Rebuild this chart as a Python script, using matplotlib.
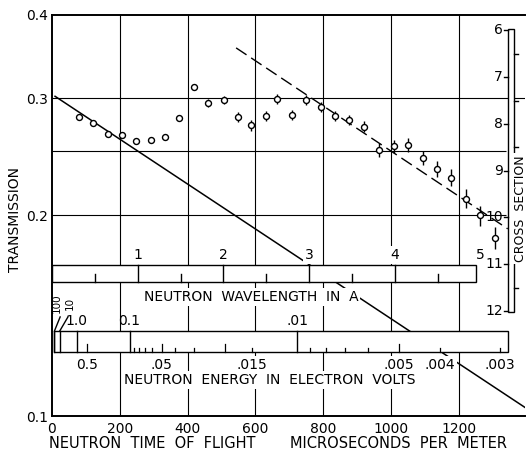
import numpy as np
import matplotlib
matplotlib.use("Agg")
import matplotlib.pyplot as plt
import matplotlib.transforms as mtransforms
from matplotlib.patches import Rectangle
from matplotlib.ticker import NullLocator

plt.rcParams["font.family"] = ["DejaVu Sans"]

# -------------------------------------------------------------------------
# Measured transmission vs neutron time of flight (microseconds per meter)
# -------------------------------------------------------------------------
tof = [81, 122, 165, 207, 248, 291, 334, 374, 418, 461, 506, 548, 588, 631,
       664, 708, 748, 794, 835, 876, 920, 965, 1009, 1051, 1093, 1135, 1176,
       1221, 1262, 1306]
transmission = [0.281, 0.275, 0.265, 0.264, 0.259, 0.260, 0.262, 0.280, 0.312,
                0.295, 0.298, 0.281, 0.273, 0.282, 0.299, 0.283, 0.298, 0.291,
                0.282, 0.278, 0.272, 0.251, 0.254, 0.255, 0.244, 0.235, 0.228,
                0.212, 0.200, 0.185]
trans_err = [0, 0, 0, 0, 0, 0, 0, 0, 0.003,
             0.004, 0.004, 0.005, 0.005, 0.005, 0.005, 0.005, 0.005, 0.005,
             0.005, 0.005, 0.005, 0.006, 0.006, 0.006, 0.006, 0.0065, 0.0065,
             0.007, 0.007, 0.007]

# 1/v lines (straight on the log scale)
solid_tof = [9, 1395]
solid_T = [0.302, 0.103]
dashed_tof = [543, 1344]
dashed_T = [0.357, 0.191]

x_ticks = [0, 200, 400, 600, 800, 1000, 1200]
y_ticks = [0.1, 0.2, 0.3, 0.4]
y_grid = [0.3, 0.25, 0.2]

# auxiliary scales
wavelengths = [1, 2, 3, 4, 5]
wavelength_half = [0.5, 1.5, 2.5, 3.5, 4.5]
energy_major = [100, 10, 1.0, 0.1, 0.01]
energy_top_labels = ["1.0", "0.1", ".01"]
energy_top_values = [1.0, 0.1, 0.01]
energy_minor = [0.5, 0.09, 0.08, 0.07, 0.06, 0.05, 0.04, 0.03, 0.02, 0.015,
                0.009, 0.008, 0.007, 0.006, 0.005, 0.004, 0.003]
energy_mid = [0.5, 0.05, 0.02, 0.005]
energy_bottom_labels = ["0.5", ".05", ".015", ".005", ".004", ".003"]
energy_bottom_values = [0.5, 0.05, 0.015, 0.005, 0.004, 0.003]
cross_sections = [6, 7, 8, 9, 10, 11, 12]

TOF_PER_ANGSTROM = 252.8      # microseconds per meter per angstrom
TOF_ENERGY = 72.3             # t = 72.3 / sqrt(E[eV])
ATOMS_PER_BARN = 0.1616       # T = exp(-n sigma)


def lam_to_tof(lam):
    return TOF_PER_ANGSTROM * np.asarray(lam, dtype=float)


def energy_to_tof(e):
    return TOF_ENERGY / np.sqrt(np.asarray(e, dtype=float))


def sigma_to_T(s):
    return np.exp(-ATOMS_PER_BARN * np.asarray(s, dtype=float))


fig = plt.figure(figsize=(5.26, 4.53), dpi=100)
ax = fig.add_axes([52 / 526, 1 - 416 / 453, 473 / 526, 401 / 453])
ax.set_yscale("log")
ax.set_xlim(0, 1395)
ax.set_ylim(0.1, 0.4)

FS = 10
LW = 1.0

# grid
for x in x_ticks[1:]:
    ax.axvline(x, color="k", lw=0.8, zorder=0.5)
ax.hlines(y_grid[0], 0, 1395, color="k", lw=0.8, zorder=0.5)
ax.hlines(y_grid[1:], 0, 1340, color="k", lw=0.8, zorder=0.5)

ax.set_xticks(x_ticks, labels=[str(v) for v in x_ticks])
ax.set_yticks(y_ticks, labels=["0.1", "0.2", "0.3", "0.4"])
ax.yaxis.set_minor_locator(NullLocator())
ax.tick_params(length=0, labelsize=FS)
ax.tick_params(axis="x", pad=4)
ax.tick_params(axis="y", pad=3)
ax.spines["right"].set_visible(False)
for s in ("left", "top", "bottom"):
    ax.spines[s].set_linewidth(1.4)

ax.plot(solid_tof, solid_T, color="k", lw=1.1, zorder=2)
ax.plot(dashed_tof, dashed_T, color="k", lw=1.0, dashes=(9, 4), zorder=2)
ax.errorbar(tof, transmission, yerr=trans_err, fmt="o", ms=4.3, mfc="white",
            mec="k", mew=1.0, ecolor="k", elinewidth=1.0, capsize=0, zorder=5)

bt = mtransforms.blended_transform_factory(ax.transData, ax.transAxes)
white = dict(facecolor="white", edgecolor="none", pad=1.5)

# wavelength scale
wl_lo, wl_hi = 0.334, 0.377
ax.add_patch(Rectangle((0, wl_lo), 1251, wl_hi - wl_lo, transform=bt,
                       fc="white", ec="k", lw=LW, zorder=3))
for lam in wavelengths:
    t = lam_to_tof(lam)
    if t < 1251:
        ax.plot([t, t], [wl_lo, wl_hi], transform=bt, color="k", lw=LW, zorder=3.5)
    ax.text(t, 0.402, str(lam), transform=bt, ha="center", va="center",
            fontsize=FS, bbox=white, zorder=4)
for lam in wavelength_half:
    t = lam_to_tof(lam)
    ax.plot([t, t], [wl_lo, wl_lo + 0.02], transform=bt, color="k", lw=LW, zorder=3.5)
ax.text(587, 0.297, "NEUTRON  WAVELENGTH  IN  A", transform=bt, ha="center",
        va="center", fontsize=FS, bbox=white, zorder=4)

# energy scale
en_lo, en_hi = 0.1596, 0.212
t100 = float(energy_to_tof(100))
ax.add_patch(Rectangle((t100, en_lo), 1345 - t100, en_hi - en_lo, transform=bt,
                       fc="white", ec="k", lw=LW, zorder=3))
for e in energy_major:
    t = energy_to_tof(e)
    ax.plot([t, t], [en_lo, en_hi], transform=bt, color="k", lw=LW, zorder=3.5)
for e in energy_minor:
    t = energy_to_tof(e)
    h = 0.02 if e in energy_mid else 0.01
    ax.plot([t, t], [en_lo, en_lo + h], transform=bt, color="k", lw=0.9, zorder=3.5)
for lab, e in zip(energy_top_labels, energy_top_values):
    ax.text(energy_to_tof(e), 0.238, lab, transform=bt, ha="center", va="center",
            fontsize=FS, zorder=4)
for lab, e in zip(energy_bottom_labels, energy_bottom_values):
    ax.text(energy_to_tof(e), 0.128, lab, transform=bt, ha="center", va="center",
            fontsize=FS, bbox=white, zorder=4)
# the two highest energies are labelled sideways with leaders
ax.text(15, 0.281, "100", transform=bt, rotation=90, ha="center", va="center",
        fontsize=7.5, zorder=4)
ax.text(54, 0.281, "10", transform=bt, rotation=90, ha="center", va="center",
        fontsize=7.5, zorder=4)
ax.plot([t100, 24], [en_hi, 0.247], transform=bt, color="k", lw=LW, zorder=4)
ax.plot([energy_to_tof(10), 47], [en_hi, 0.247], transform=bt, color="k",
        lw=LW, zorder=4)
ax.text(643, 0.09, "NEUTRON  ENERGY  IN  ELECTRON  VOLTS", transform=bt,
        ha="center", va="center", fontsize=FS, bbox=white, zorder=4)

# cross section scale
cs_x0, cs_w = 1345, 18
T_top, T_bot = sigma_to_T(5.97), sigma_to_T(12.03)
ax.add_patch(Rectangle((cs_x0, T_bot), cs_w, T_top - T_bot, fc="white",
                       ec="k", lw=LW, zorder=3))
for s in cross_sections:
    T = sigma_to_T(s)
    ax.plot([cs_x0 - 12, cs_x0], [T, T], color="k", lw=LW, zorder=3.5)
    ax.text(cs_x0 - 15, T, str(s), ha="right", va="center", fontsize=FS, zorder=4)
for s in np.array(cross_sections[:-1]) + 0.5:
    T = sigma_to_T(s)
    ax.plot([cs_x0 + cs_w, cs_x0 + cs_w + 10], [T, T], color="k", lw=LW, zorder=3.5)
ax.text(1382, 0.205, "CROSS  SECTION", rotation=90, ha="center", va="center",
        fontsize=9, bbox=white, zorder=4)

# axis titles
fig.text(15 / 526, 1 - 220 / 453, "TRANSMISSION", rotation=90, ha="center",
         va="center", fontsize=FS)
fig.text(152 / 526, 1 - 443 / 453, "NEUTRON  TIME  OF  FLIGHT", ha="center",
         va="center", fontsize=10.5)
fig.text(399 / 526, 1 - 443 / 453, "MICROSECONDS  PER  METER", ha="center",
         va="center", fontsize=10.5)

fig.savefig("out.png", dpi=100)
